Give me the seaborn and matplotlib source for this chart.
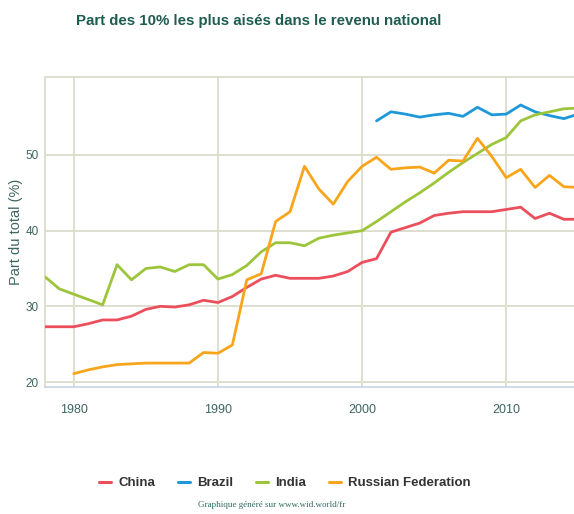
import matplotlib
matplotlib.use("Agg")
import matplotlib.pyplot as plt
import pandas as pd
import seaborn as sns

# Top 10% income share, % of national income
china_years = list(range(1978, 2016))
china_vals = [27.3, 27.3, 27.3, 27.7, 28.2, 28.2, 28.7, 29.6, 30.0, 29.9,
              30.2, 30.8, 30.5, 31.3, 32.5, 33.6, 34.1, 33.7, 33.7, 33.7,
              34.0, 34.6, 35.8, 36.3, 39.8, 40.4, 41.0, 42.0, 42.3, 42.5,
              42.5, 42.5, 42.8, 43.1, 41.6, 42.3, 41.5, 41.5]

brazil_years = list(range(2001, 2016))
brazil_vals = [54.5, 55.7, 55.4, 55.0, 55.3, 55.5, 55.1, 56.3, 55.3, 55.4,
               56.6, 55.7, 55.2, 54.8, 55.4]

india_years = list(range(1978, 2016))
india_vals = [33.9, 32.3, 31.6, 30.9, 30.2, 35.5, 33.5, 35.0, 35.2, 34.6,
              35.5, 35.5, 33.6, 34.2, 35.4, 37.2, 38.4, 38.4, 38.0, 39.0,
              39.4, 39.7, 40.0, 41.2, 42.5, 43.8, 45.0, 46.3, 47.7, 49.0,
              50.2, 51.4, 52.3, 54.5, 55.3, 55.7, 56.1, 56.2]

russia_years = list(range(1980, 2016))
russia_vals = [21.1, 21.6, 22.0, 22.3, 22.4, 22.5, 22.5, 22.5, 22.5, 23.9,
               23.8, 24.9, 33.5, 34.3, 41.2, 42.5, 48.5, 45.5, 43.5, 46.5,
               48.5, 49.7, 48.1, 48.3, 48.4, 47.6, 49.3, 49.2, 52.2, 49.8,
               47.0, 48.1, 45.7, 47.3, 45.8, 45.7]

countries = ["China", "Brazil", "India", "Russian Federation"]
colors = ["#ec4f5c", "#1e98d8", "#9dc53b", "#f9a51b"]
y_ticks = [20, 30, 40, 50]
x_ticks = [1980, 1990, 2000, 2010]

title = "Part des 10% les plus aisés dans le revenu national"
y_label = "Part du total (%)"
credit = "Graphique généré sur www.wid.world/fr"

frames = []
for name, yrs, vals in [("China", china_years, china_vals),
                        ("Brazil", brazil_years, brazil_vals),
                        ("India", india_years, india_vals),
                        ("Russian Federation", russia_years, russia_vals)]:
    frames.append(pd.DataFrame({"year": yrs, "share": vals, "country": name}))
df = pd.concat(frames, ignore_index=True)

sns.set_theme(style="white")
plt.rcParams["font.family"] = ["Liberation Sans", "DejaVu Sans"]

grid_col = "#dcdccd"
axis_col = "#c6d4e6"
text_col = "#3f6660"

fig = plt.figure(figsize=(5.74, 5.14), dpi=100)
ax = fig.add_axes([45 / 574, 1 - 387 / 514, 1 - 45 / 574, (387 - 77) / 514])

sns.lineplot(data=df, x="year", y="share", hue="country", hue_order=countries,
             palette=colors, linewidth=2.0, ax=ax, legend=False, zorder=3)

ax.set_xlim(1978.0, 2014.7)
ax.set_ylim(19.34, 60.3)
ax.set_xticks(x_ticks)
ax.set_yticks(y_ticks)
ax.grid(True, color=grid_col, linewidth=1.3, zorder=0)
ax.set_axisbelow(True)

for side in ["left", "top", "right"]:
    ax.spines[side].set_color(grid_col)
    ax.spines[side].set_linewidth(1.3)
ax.spines["right"].set_visible(False)
ax.spines["bottom"].set_color(axis_col)
ax.spines["bottom"].set_linewidth(1.2)

ax.tick_params(axis="x", direction="out", length=7, width=1, color=axis_col,
               labelsize=9, labelcolor=text_col, pad=5)
ax.tick_params(axis="y", length=0, labelsize=8.5, labelcolor=text_col, pad=4.5)
ax.set_xlabel("")
ax.set_ylabel(y_label, fontsize=10.5, color=text_col)
ax.yaxis.set_label_coords(-22 / 529, 0.5)

fig.text(259 / 574, 1 - 21 / 514, title, ha="center", va="center",
         fontsize=10.8, fontweight="bold", color="#1d5c4f")

# Legend row under the plot
handles = [plt.Line2D([], [], color=c, linewidth=2.2) for c in colors]
fig.legend(handles, countries, loc="center", bbox_to_anchor=(285 / 574, 1 - 483 / 514),
           ncol=4, frameon=False, handlelength=0.9, handletextpad=0.53,
           columnspacing=1.75, prop={"weight": "bold", "size": 9.5},
           labelcolor="#333333")

fig.text(272 / 574, 1 - 505 / 514, credit, ha="center", va="center",
         fontsize=6.5, color="#2f6b5e", family=["Liberation Serif", "DejaVu Serif"])

fig.savefig("out.png", dpi=100)
